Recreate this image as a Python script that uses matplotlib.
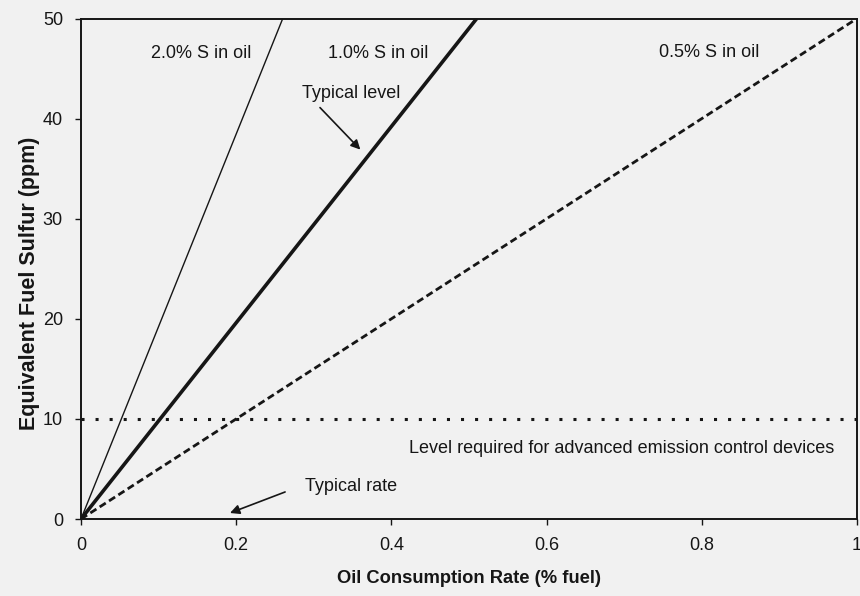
import matplotlib.pyplot as plt

plt.rcParams['font.family'] = ['Liberation Sans', 'DejaVu Sans']

# end points of each sulfur-in-oil line
rate_s20 = [0, 0.26]
ppm_s20 = [0, 50]
rate_s10 = [0, 0.51]
ppm_s10 = [0, 50]
rate_s05 = [0, 1.0]
ppm_s05 = [0, 50]

limit_rate = [0, 1.0]
limit_ppm = [10, 10]

x_ticks = [0, 0.2, 0.4, 0.6, 0.8, 1]
x_ticklabels = ['0', '0.2', '0.4', '0.6', '0.8', '1']
y_ticks = [0, 10, 20, 30, 40, 50]

ink = '#161616'
bg = '#f1f1f1'
fig = plt.figure(figsize=(8.6, 5.96), dpi=100, facecolor=bg)
ax = fig.add_axes([81 / 860, 77 / 596, 776 / 860, 500.5 / 596])
ax.set_facecolor(bg)

ax.plot(rate_s20, ppm_s20, color=ink, lw=1.0, solid_capstyle='butt')
ax.plot(rate_s10, ppm_s10, color=ink, lw=2.6, solid_capstyle='butt')
ax.plot(rate_s05, ppm_s05, color=ink, lw=2.0, dashes=(2.6, 1.4))
ax.plot(limit_rate, limit_ppm, color=ink, lw=2.2, dashes=(1.0, 3.6))

ax.set_xlim(0, 1)
ax.set_ylim(0, 50)
ax.set_xticks(x_ticks)
ax.set_xticklabels(x_ticklabels)
ax.set_yticks(y_ticks)
ax.tick_params(direction='out', length=4, width=1, colors=ink,
               labelsize=13, pad=9)
for s in ax.spines.values():
    s.set_linewidth(1.4)
    s.set_color(ink)

ax.set_xlabel('Oil Consumption Rate (% fuel)', fontsize=13.2,
              fontweight='bold', color=ink, va='top')
ax.xaxis.set_label_coords(0.5, -0.102)
ax.set_ylabel('Equivalent Fuel Sulfur (ppm)', fontsize=15.5,
              fontweight='bold', color=ink, va='center')
ax.yaxis.set_label_coords(-0.067, 0.47)

txt = dict(fontsize=13, color=ink, ha='center', va='center')
ax.text(0.155, 46.5, '2.0% S in oil', **txt)
ax.text(0.383, 46.5, '1.0% S in oil', **txt)
ax.text(0.809, 46.6, '0.5% S in oil', **txt)
ax.text(0.697, 7.0, 'Level required for advanced emission control devices', **txt)
ax.text(0.348, 42.5, 'Typical level', **txt)
ax.text(0.348, 3.2, 'Typical rate', **txt)

arrow = dict(arrowstyle='-|>', color=ink, lw=1.2, mutation_scale=14,
             shrinkA=0, shrinkB=0)
ax.annotate('', xy=(0.36, 36.9), xytext=(0.308, 41.1), arrowprops=arrow)
ax.annotate('', xy=(0.192, 0.6), xytext=(0.263, 2.7), arrowprops=arrow)

fig.savefig('out.png', dpi=100, facecolor=bg)
